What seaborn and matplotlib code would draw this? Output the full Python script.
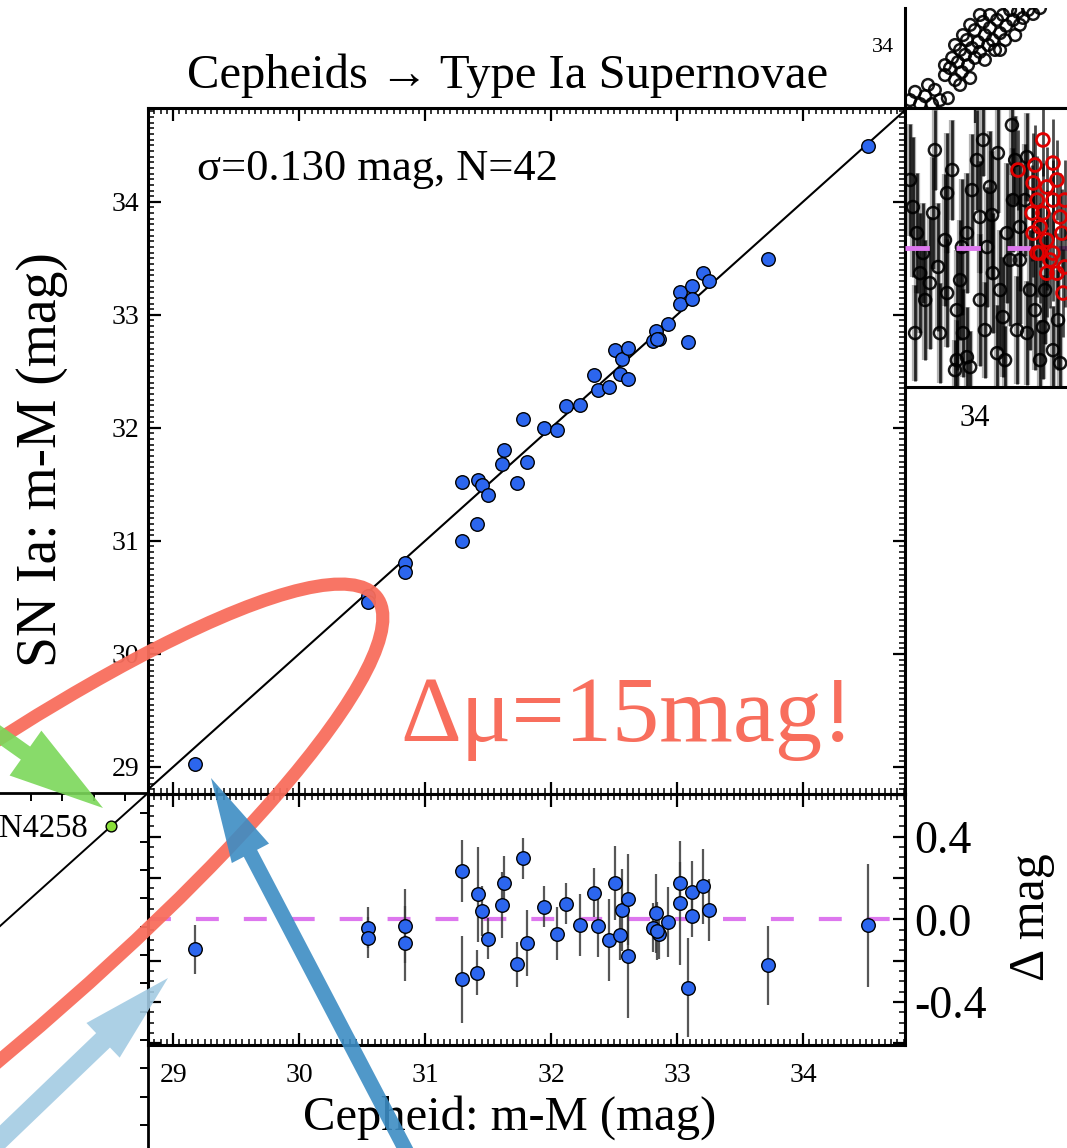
import matplotlib
matplotlib.use("Agg")
import numpy as np
import pandas as pd
import matplotlib.pyplot as plt
import seaborn as sns
from matplotlib.ticker import MultipleLocator, FixedLocator, FuncFormatter
from matplotlib.transforms import Affine2D
from matplotlib.patches import Ellipse, FancyArrow

# ------------------------------------------------------------------ data
# Cepheid vs SN Ia distance moduli (main panel, 42 hosts)
cep_mu = [29.17, 30.55, 30.55, 30.84, 30.84, 31.29, 31.29, 31.41, 31.42, 31.45,
          31.50, 31.61, 31.63, 31.73, 31.78, 31.81, 31.94, 32.05, 32.12, 32.23,
          32.34, 32.37, 32.46, 32.51, 32.55, 32.56, 32.61, 32.61, 32.81, 32.83,
          32.86, 32.93, 33.02, 33.02, 33.09, 33.12, 33.12, 33.21, 33.25, 33.72,
          34.52, 32.84]
sn_mu = [29.024, 30.510, 30.461, 30.808, 30.723, 31.524, 31.000, 31.151, 31.541, 31.490,
         31.406, 31.678, 31.808, 31.512, 32.075, 31.697, 32.001, 31.981, 32.196, 32.201,
         32.469, 32.338, 32.360, 32.685, 32.472, 32.605, 32.707, 32.432, 32.770, 32.859,
         32.787, 32.917, 33.198, 33.098, 32.758, 33.253, 33.136, 33.369, 33.295, 33.497,
         34.490, 32.785]
resid_err = [0.12, 0.10, 0.10, 0.18, 0.18, 0.15, 0.21, 0.11, 0.23, 0.12,
             0.10, 0.16, 0.13, 0.11, 0.10, 0.16, 0.10, 0.13, 0.10, 0.15,
             0.12, 0.15, 0.20, 0.18, 0.12, 0.20, 0.22, 0.30, 0.12, 0.19,
             0.12, 0.17, 0.10, 0.30, 0.24, 0.15, 0.10, 0.18, 0.15, 0.19,
             0.30, 0.14]
x_major_ticks = [29, 30, 31, 32, 33, 34]
res_major_ticks = [-0.6, -0.4, -0.2, 0.0, 0.2, 0.4, 0.6]
res_labelled = [-0.4, 0.0, 0.4]

# left partial panel (geometry -> Cepheids): anchor galaxy
anchor_name = "N4258"
anchor_mu = [29.39]

# right partial panels (Hubble-flow SNe), read approximately
hf_x = [33.820, 33.834, 33.848, 33.862, 33.881, 33.903, 33.925, 33.889, 33.870, 33.917,
        33.931, 33.945, 33.953, 33.964, 33.973, 33.981, 33.992, 34.000, 34.009, 34.014,
        34.028, 34.037, 34.042, 34.050, 34.062, 34.070, 34.078, 34.087, 34.098, 34.106,
        34.120, 34.134, 34.148, 34.162, 33.959, 33.987, 34.028, 34.070, 34.112, 33.937,
        33.959, 33.978, 34.000, 34.023, 34.042, 34.056, 34.084, 34.125, 34.181, 33.917,
        33.945, 33.967, 33.987, 34.014]
hf_y = [33.833, 33.858, 33.821, 33.845, 33.821, 33.833, 33.839, 33.864, 33.879, 33.909,
        33.930, 33.894, 33.948, 33.918, 33.970, 33.939, 33.991, 33.961, 34.009, 33.979,
        34.030, 34.000, 34.052, 34.015, 34.076, 34.036, 34.091, 34.058, 34.106, 34.076,
        34.100, 34.082, 34.106, 34.094, 33.879, 33.900, 33.955, 33.985, 34.030, 33.961,
        33.985, 34.015, 34.045, 34.070, 34.091, 33.985, 34.015, 34.061, 34.112, 33.939,
        34.000, 34.030, 34.061, 34.091]

hr_x = [34.103, 34.064, 34.145, 33.828, 33.884, 33.839, 33.856, 33.898, 33.923, 33.950,
        33.967, 33.950, 33.978, 34.062, 34.014, 34.050, 34.089, 34.014, 33.978, 34.106,
        34.125, 34.153, 34.189, 34.217, 34.237, 33.923, 34.042, 33.875, 34.078, 34.181,
        34.006, 33.964, 34.034, 34.125, 33.848, 33.903, 33.987, 34.117, 34.145, 33.820,
        33.862, 33.917, 33.937, 33.959, 33.992, 34.028, 34.048, 34.070, 34.098, 34.112,
        34.139, 34.167, 34.195, 34.231, 33.889, 33.945, 34.023, 34.084, 33.834]
hr_y = [0.618, 0.477, 0.457, 0.206, 0.176, 0.075, -0.025, -0.095, -0.226, -0.312,
        -0.427, -0.563, -0.548, -0.528, -0.261, -0.126, 0.075, 0.156, 0.075, 0.241,
        -0.060, -0.211, -0.397, -0.513, -0.578, 0.276, 0.307, -0.176, -0.347, -0.563,
        0.442, 0.005, 0.005, 0.106, -0.126, -0.427, -0.598, -0.412, -0.427, 0.342,
        -0.261, 0.040, 0.392, -0.161, 0.291, -0.412, 0.166, -0.211, -0.060, 0.442,
        0.241, -0.312, -0.211, -0.362, 0.492, -0.613, 0.543, -0.563, -0.427]
hr_err = [0.25, 0.30, 0.22, 0.35, 0.28, 0.30, 0.25, 0.32, 0.27, 0.30,
          0.22, 0.20, 0.25, 0.24, 0.33, 0.30, 0.35, 0.28, 0.30, 0.26,
          0.32, 0.30, 0.26, 0.22, 0.20, 0.30, 0.28, 0.33, 0.30, 0.20,
          0.25, 0.34, 0.30, 0.32, 0.30, 0.25, 0.18, 0.27, 0.26, 0.28,
          0.30, 0.33, 0.25, 0.30, 0.28, 0.24, 0.32, 0.30, 0.33, 0.22,
          0.28, 0.30, 0.27, 0.25, 0.20, 0.15, 0.18, 0.17, 0.24]
hr_red_x = [34.120, 34.189, 34.217, 34.167, 34.162, 34.173, 34.159, 34.181, 34.162, 34.200,
            34.217, 34.237, 34.209, 34.228, 34.245, 34.181, 34.200, 34.242, 34.217, 34.250,
            34.173, 34.189, 34.228, 34.200, 34.250]
hr_red_y = [0.392, 0.543, 0.427, 0.417, 0.327, 0.241, 0.176, 0.106, 0.075, 0.040,
            0.241, 0.156, -0.060, -0.126, -0.226, -0.025, 0.307, 0.075, -0.025, -0.095,
            -0.025, 0.176, 0.342, -0.126, 0.241]
hr_red_err = [0.20, 0.18, 0.22, 0.20, 0.25, 0.22, 0.24, 0.20, 0.22, 0.25,
              0.20, 0.22, 0.24, 0.20, 0.22, 0.25, 0.20, 0.22, 0.24, 0.20,
              0.22, 0.25, 0.20, 0.22, 0.20]

# ------------------------------------------------------------------ style
sns.set_theme(style="white")
plt.rcParams["font.family"] = ["Liberation Serif", "DejaVu Serif"]
plt.rcParams["axes.unicode_minus"] = False
for key in ("text.color", "axes.labelcolor", "xtick.color", "ytick.color",
            "xtick.labelcolor", "ytick.labelcolor", "axes.edgecolor"):
    plt.rcParams[key] = "black"

BLUE = "#2c66ee"
MAGENTA = "#dd77ee"
SALMON = "#f86e5d"

W, H = 1067, 1148
fig = plt.figure(figsize=(W / 100, H / 100), dpi=100)
fig.patch.set_facecolor("white")


def rect(x0, y0, x1, y1):
    return [x0 / W, 1 - y1 / H, (x1 - x0) / W, (y1 - y0) / H]


pix = Affine2D().scale(1 / W, -1 / H).translate(0, 1) + fig.transFigure

# ------------------------------------------------------------------ left partial panel
ax_left = fig.add_axes(rect(-200, 793, 148, 1300))
ax_left.set_xlim(29.68 - 348 / 126, 29.68)
ax_left.set_ylim(29.68 - 507 / 113.3, 29.68)
for side in ("left", "bottom"):
    ax_left.spines[side].set_visible(False)
for side in ("top", "right"):
    ax_left.spines[side].set_linewidth(2.0)
    ax_left.spines[side].set_color("black")
ax_left.axline((anchor_mu[0], anchor_mu[0]), slope=1, color="black", lw=1.4)
ax_left.scatter(anchor_mu, anchor_mu, s=60, color="#8be03a", edgecolor="black",
                linewidth=1.0, zorder=3)
ax_left.xaxis.set_major_locator(MultipleLocator(0.25))
ax_left.yaxis.set_major_locator(MultipleLocator(0.25))
ax_left.tick_params(direction="in", top=True, right=True, bottom=False, left=False,
                    labelleft=False, labelbottom=False, length=6, width=1.4)
ax_left.set_facecolor("white")

# ------------------------------------------------------------------ main panels
ax_main = fig.add_axes(rect(148, 108, 905, 794))
ax_res = fig.add_axes(rect(148, 794, 905, 1045))

df = pd.DataFrame({"cep": cep_mu, "sn": sn_mu, "err": resid_err})
df["resid"] = df["sn"] - df["cep"]

for ax in (ax_main, ax_res):
    ax.set_facecolor("white")
    ax.set_xlim(28.80, 34.81)
    for s in ax.spines.values():
        s.set_linewidth(2.2)
        s.set_color("black")
    ax.tick_params(which="both", direction="in", top=True, bottom=True,
                   left=True, right=True, color="black")
    ax.tick_params(which="major", length=9, width=1.6)
    ax.tick_params(which="minor", length=4.5, width=1.1)
    ax.xaxis.set_major_locator(FixedLocator(x_major_ticks))
    ax.xaxis.set_minor_locator(MultipleLocator(0.05))

# upper panel
ax_main.set_ylim(28.76, 34.83)
ax_main.yaxis.set_major_locator(FixedLocator(x_major_ticks))
ax_main.yaxis.set_minor_locator(MultipleLocator(0.05))
ax_main.tick_params(axis="x", labelbottom=False)
ax_main.tick_params(axis="y", labelsize=20, pad=6)
ax_main.axline((29, 29), slope=1, color="black", lw=1.5, zorder=2)
sns.scatterplot(data=df, x="cep", y="sn", ax=ax_main, color=BLUE, edgecolor="black",
                linewidth=1.0, s=95, zorder=3, legend=False)
ax_main.set_xlabel("")
ax_main.set_ylabel("SN Ia: m-M (mag)", fontsize=40, rotation=90,
                   ha="center", va="center", rotation_mode="anchor")
ax_main.yaxis.set_label_coords(-0.140, 0.487)

# residual panel
ax_res.set_ylim(-0.609, 0.607)
ax_res.yaxis.set_major_locator(FixedLocator(res_major_ticks))
ax_res.yaxis.set_minor_locator(MultipleLocator(0.05))
ax_res.yaxis.set_major_formatter(FuncFormatter(
    lambda v, p: f"{v:.1f}" if any(abs(v - t) < 1e-6 for t in res_labelled) else ""))
ax_res.tick_params(axis="y", labelleft=False, labelright=True, labelsize=33, pad=7)
ax_res.tick_params(axis="x", labelsize=20, pad=13)
ax_res.axhline(0, color=MAGENTA, lw=3, dashes=(5.5, 6), zorder=1)
ax_res.errorbar(df["cep"], df["resid"], yerr=df["err"], fmt="none", ecolor="#3a3a3a",
                elinewidth=1.6, capsize=0, alpha=0.85, zorder=2)
sns.scatterplot(data=df, x="cep", y="resid", ax=ax_res, color=BLUE, edgecolor="black",
                linewidth=1.0, s=95, zorder=3, legend=False)
ax_res.set_xlabel("Cepheid: m-M (mag)", fontsize=35)
ax_res.xaxis.set_label_coords(0.478, -0.339)
ax_res.xaxis.label.set_va("baseline")
ax_res.set_ylabel("Δ mag", fontsize=36, rotation=90)
ax_res.yaxis.set_label_position("right")
ax_res.yaxis.label.set_va("center")
ax_res.yaxis.label.set_ha("center")
ax_res.yaxis.set_label_coords(1.168, 0.51)

# ------------------------------------------------------------------ right partial panels
XR = (33.806, 33.806 + 495 / 360)
ax_tr = fig.add_axes(rect(905, 8, 1400, 108))
ax_tr.set_xlim(*XR)
ax_tr.set_ylim(34 - 63 / 330, 34 + 37 / 330)
ax_mr = fig.add_axes(rect(905, 108, 1400, 387))
ax_mr.set_xlim(*XR)
ax_mr.set_ylim(-0.698, 0.7035)

for ax in (ax_tr, ax_mr):
    ax.set_facecolor("white")
    ax.spines["right"].set_visible(False)
    for s in ("left", "bottom", "top"):
        ax.spines[s].set_linewidth(2.2)
        ax.spines[s].set_color("black")
    ax.xaxis.set_major_locator(FixedLocator([34.0]))
    ax.xaxis.set_minor_locator(MultipleLocator(0.1))
    ax.tick_params(which="both", direction="in", color="black")
    ax.tick_params(which="major", length=11, width=1.6)
    ax.tick_params(which="minor", length=6, width=1.4)
ax_tr.spines["top"].set_visible(False)
ax_tr.tick_params(top=False, right=False, labelbottom=False, labelsize=16, pad=8)
ax_tr.yaxis.set_major_locator(FixedLocator([34.0]))
ax_tr.yaxis.set_minor_locator(MultipleLocator(0.1))
ax_tr.yaxis.set_major_formatter(FuncFormatter(lambda v, p: f"{v:.0f}"))
ax_tr.scatter(hf_x, hf_y, s=70, facecolors="none", edgecolors="black",
              linewidths=1.8, alpha=0.9)

ax_mr.tick_params(top=True, right=False, labelleft=False, labelsize=22, pad=12)
ax_mr.xaxis.set_major_formatter(FuncFormatter(lambda v, p: f"{v:.0f}"))
ax_mr.yaxis.set_major_locator(MultipleLocator(0.25))
ax_mr.yaxis.set_minor_locator(MultipleLocator(0.05))
ax_mr.errorbar(hr_x, hr_y, yerr=hr_err, fmt="none", ecolor="#555555", elinewidth=4.5,
               alpha=0.45, zorder=1)
ax_mr.errorbar(hr_x, hr_y, yerr=hr_err, fmt="none", ecolor="black", elinewidth=2.0,
               alpha=0.8, zorder=1)
ax_mr.scatter(hr_x, hr_y, s=75, facecolors="none", edgecolors="black",
              linewidths=1.8, alpha=0.9, zorder=2)
ax_mr.axhline(0, color=MAGENTA, lw=3.5, dashes=(5.0, 5.5), zorder=3)
ax_mr.errorbar(hr_red_x, hr_red_y, yerr=hr_red_err, fmt="none", ecolor="black",
               elinewidth=2.0, alpha=0.7, zorder=4)
ax_mr.scatter(hr_red_x, hr_red_y, s=85, facecolors="none", edgecolors="#e00000",
              linewidths=2.0, zorder=5)

# ------------------------------------------------------------------ annotations overlay
ax_ov = fig.add_axes([0, 0, 1, 1])
ax_ov.set_xlim(0, W)
ax_ov.set_ylim(H, 0)
ax_ov.axis("off")
ax_ov.patch.set_alpha(0)

ELLIPSE = dict(center=(-175, 1028), width=1400, height=270, angle=-38)
ax_ov.add_patch(Ellipse(ELLIPSE["center"], ELLIPSE["width"], ELLIPSE["height"],
                        angle=ELLIPSE["angle"], fill=False, edgecolor=SALMON,
                        lw=9.5, alpha=0.95))

ARROWS = [
    # (x_start, y_start, x_tip, y_tip, width, head_width, head_length, color, alpha)
    (-120, 650, 103, 808, 16, 55, 95, "#7bd75a", 0.9),
    (-30, 1168, 168, 978, 20, 48, 90, "#a3cbe3", 0.9),
    (411, 1160, 211, 778, 15, 42, 85, "#3d8dc4", 0.9),
]
for x0, y0, x1, y1, w, hw, hl, c, a in ARROWS:
    ax_ov.add_patch(FancyArrow(x0, y0, x1 - x0, y1 - y0, width=w, head_width=hw,
                               head_length=hl, length_includes_head=True,
                               color=c, alpha=a, lw=0))

# ------------------------------------------------------------------ free texts
fig.text(508, 88, "Cepheids → Type Ia Supernovae", transform=pix, ha="center",
         va="baseline", fontsize=35)
fig.text(197, 180, "σ=0.130 mag, N=42", transform=pix, ha="left",
         va="baseline", fontsize=32)
fig.text(400, 741, "Δμ=15mag!", transform=pix, ha="left", va="baseline",
         fontsize=68, color=SALMON)
fig.text(88, 829, anchor_name, transform=pix, ha="right", va="center", fontsize=23.5)

fig.savefig("out.png", dpi=100, facecolor="white")
